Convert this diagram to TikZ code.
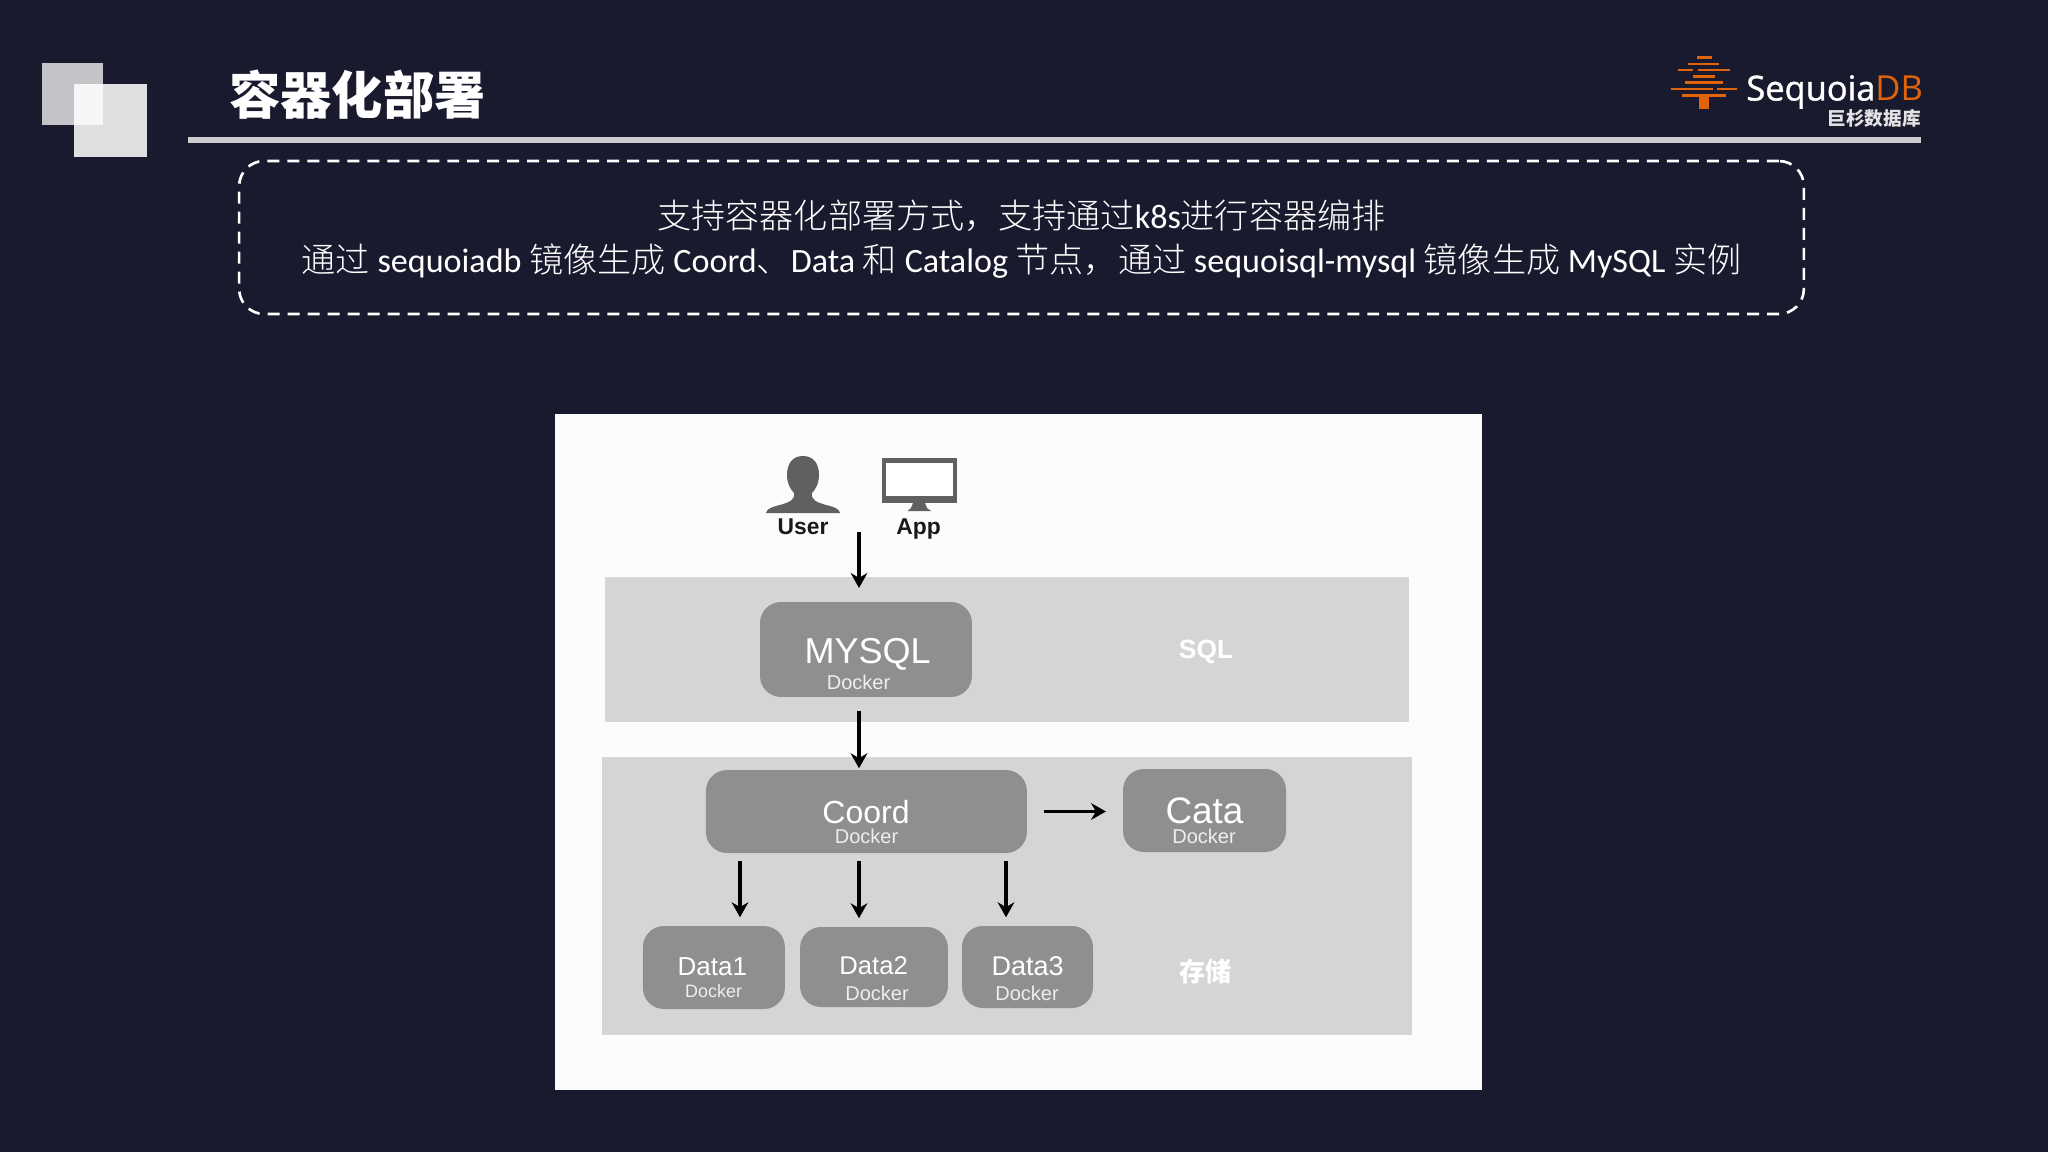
\documentclass[tikz,border=0pt]{standalone}
\usepackage{fontspec}
\usetikzlibrary{arrows.meta}
\setmainfont{Carlito}
\setsansfont{Liberation Sans}
\newfontfamily\cjklight{Noto Sans CJK SC Light}
\newfontfamily\cjk{Noto Sans CJK SC}
\newfontfamily\opensans{Open Sans}
\newfontfamily\opensansfat[FakeBold=1.2]{Open Sans}
\definecolor{slide}{HTML}{1A1A2E}
\definecolor{rulegray}{HTML}{CDCDD0}
\definecolor{bandgray}{HTML}{D5D4D7}
\definecolor{boxgray}{HTML}{8F8E91}
\definecolor{icongray}{HTML}{606062}
\definecolor{logoorange}{HTML}{E0640C}

\begin{document}
\begin{tikzpicture}[x=0.02cm,y=-0.02cm]
    \tikzset{band/.style = {fill=bandgray, inner sep=0pt, outer sep=0pt}}
    \tikzset{dockbox/.style = {fill=boxgray, rounded corners=0.42cm, inner sep=0pt, outer sep=0pt}}
    \tikzset{boxname/.style = {anchor=base, inner sep=0pt, text=white, font=\sffamily}}
    \tikzset{dockname/.style = {anchor=base, inner sep=0pt, text=white!85!boxgray, font=\sffamily\fontsize{11.4}{12}\selectfont}}
    \tikzset{iconname/.style = {anchor=base, inner sep=0pt, text=black!90, font=\sffamily\bfseries\fontsize{13}{14}\selectfont}}
    \tikzset{flow/.style = {draw=black, line width=1.8pt, -{Stealth[length=8.5pt,width=9.5pt]}}}
    \useasboundingbox[fill=slide] (0,0) rectangle (2048,1152);

    \fill[rulegray!95!slide] (41.5,63.3) rectangle (103,125);
    \fill[white!86!slide] (74,84.3) rectangle (147,157.3);
    \fill[white!96!slide] (74,84.3) rectangle (103,125);
    \node[inner sep=0pt, text=white, font=\cjk\bfseries\fontsize{29.2}{31}\selectfont] (title) at (357.5,95) {容器化部署};
    \fill[rulegray] (188,137.3) rectangle (1920.7,142.7);

    \node[draw=white, line width=1.5pt, dash pattern=on 12*0.569pt off 8*0.569pt, rounded corners=0.5cm,
        minimum width=31.3cm, minimum height=3.06cm, inner sep=0pt] (note) at (1021.5,237.5) {};
    \node[inner sep=0pt, text=white, align=center, font=\fontsize{19.4}{25}\selectfont] (notetext) at (1021.5,239)
        {{\cjklight 支持容器化部署方式，支持通过}k8s{\cjklight 进行容器编排}\\
        {\cjklight 通过} sequoiadb {\cjklight 镜像生成} Coord{\cjklight 、}Data {\cjklight 和} Catalog {\cjklight 节点，通过} sequoisql-mysql {\cjklight 镜像生成} MySQL {\cjklight 实例}};

    \foreach \xa/\xb/\yy in {1696.7/1711.7/57.7, 1688/1719/64, 1677.7/1693/70, 1698/1730/70,
        1692.7/1715/76.7, 1685/1722.7/82.7, 1670.7/1712.7/89, 1716.7/1737/89, 1682/1726/95.3}
        \fill[logoorange] (\xa,\yy-1.3) rectangle (\xb,\yy+1.3);
    \fill[logoorange] (1699.3,95) rectangle (1708.7,109);
    \node[anchor=base west, inner sep=0pt, text=white, font=\fontsize{19.6}{20}\selectfont] (logoname) at (1746,100.5)
        {{\opensansfat Sequoia}\textcolor{logoorange}{\opensans DB}};
    \node[anchor=east, inner sep=0pt, text=white!88!slide, font=\cjk\bfseries\fontsize{10.6}{11}\selectfont] (logosub) at (1921,118) {巨杉数据库};

    \node[fill=white!99!black, minimum width=18.54cm, minimum height=13.52cm, inner sep=0pt, outer sep=0pt] (shot) at (1018.5,752) {};
    \node[band, minimum width=16.09cm, minimum height=2.9cm] (sqlband) at (1006.75,649.5) {};
    \node[band, minimum width=16.21cm, minimum height=5.56cm] (storeband) at (1006.75,896) {};

    \fill[icongray] (803,456) .. controls (793,456) and (787,463) .. (787,475)
        .. controls (787,484) and (791,490) .. (794,493)
        .. controls (795,500) and (790,502) .. (780,505)
        .. controls (771,507) and (767,509) .. (766,513) -- (840,513)
        .. controls (839,509) and (835,507) .. (826,505)
        .. controls (816,502) and (811,500) .. (812,493)
        .. controls (815,490) and (819,484) .. (819,475)
        .. controls (819,463) and (813,456) .. (803,456) -- cycle;
    \fill[icongray] (881.5,458) rectangle (956.7,503);
    \fill[white] (886,463) rectangle (953,496);
    \fill[icongray] (913,503) -- (925,503) -- (927,508) -- (931,511) -- (907.5,511) -- (911,508) -- cycle;
    \node[iconname] (user) at (803,534) {User};
    \node[iconname] (app) at (918.5,534) {App};

    \node[dockbox, minimum width=4.24cm, minimum height=1.9cm] (mysql) at (866,649.5) {};
    \node[dockbox, minimum width=6.42cm, minimum height=1.66cm] (coord) at (866.4,811.5) {};
    \node[dockbox, minimum width=3.26cm, minimum height=1.66cm] (cata) at (1204.5,810.5) {};
    \node[dockbox, minimum width=2.84cm, minimum height=1.66cm] (data1) at (713.9,967.5) {};
    \node[dockbox, minimum width=2.96cm, minimum height=1.6cm] (data2) at (874,967) {};
    \node[dockbox, minimum width=2.62cm, minimum height=1.64cm] (data3) at (1027.5,967) {};

    \node[boxname, font=\sffamily\fontsize{20.5}{22}\selectfont] (mysqlname) at (867.6,663) {MYSQL};
    \node[dockname] (mysqldock) at (858.5,689) {Docker};
    \node[boxname, font=\sffamily\fontsize{18.2}{20}\selectfont] (coordname) at (866,823) {Coord};
    \node[dockname] (coorddock) at (866.5,843.7) {Docker};
    \node[boxname, font=\sffamily\fontsize{21}{23}\selectfont] (cataname) at (1204.5,823) {Cata};
    \node[dockname] (catadock) at (1204,843.7) {Docker};
    \node[boxname, font=\sffamily\fontsize{14.8}{16}\selectfont] (data1name) at (712.4,975) {Data1};
    \node[dockname, font=\sffamily\fontsize{10.2}{11}\selectfont] (data1dock) at (713.6,997.7) {Docker};
    \node[boxname, font=\sffamily\fontsize{14.6}{16}\selectfont] (data2name) at (873.6,974) {Data2};
    \node[dockname] (data2dock) at (877,1000.7) {Docker};
    \node[boxname, font=\sffamily\fontsize{15.4}{17}\selectfont] (data3name) at (1027.6,975) {Data3};
    \node[dockname] (data3dock) at (1027,1000.7) {Docker};
    \node[boxname, font=\sffamily\bfseries\fontsize{15}{16}\selectfont] (sqlname) at (1206,658) {SQL};
    \node[inner sep=0pt, text=white, font=\cjk\bfseries\fontsize{14.8}{16}\selectfont] (storename) at (1205,972) {存储};

    \coordinate (inflow) at (859,532);
    \draw[flow, shorten >=8pt] (inflow) -- (mysql.north -| inflow);
    \draw[flow, shorten <=8pt, shorten >=1pt] (mysql.south -| inflow) -- (coord.north -| inflow);
    \draw[flow, line width=2pt, shorten <=9.7pt, shorten >=9.7pt] (coord.east) -- (coord.east -| cata.west);
    \draw[flow, shorten <=4.5pt, shorten >=5pt] (coord.south -| 740,0) -- (data1.north -| 740,0);
    \draw[flow, shorten <=4.5pt, shorten >=5pt] (coord.south -| inflow) -- (data2.north -| inflow);
    \draw[flow, shorten <=4.5pt, shorten >=5pt] (coord.south -| 1006,0) -- (data3.north -| 1006,0);
    \end{tikzpicture}
\end{document}
